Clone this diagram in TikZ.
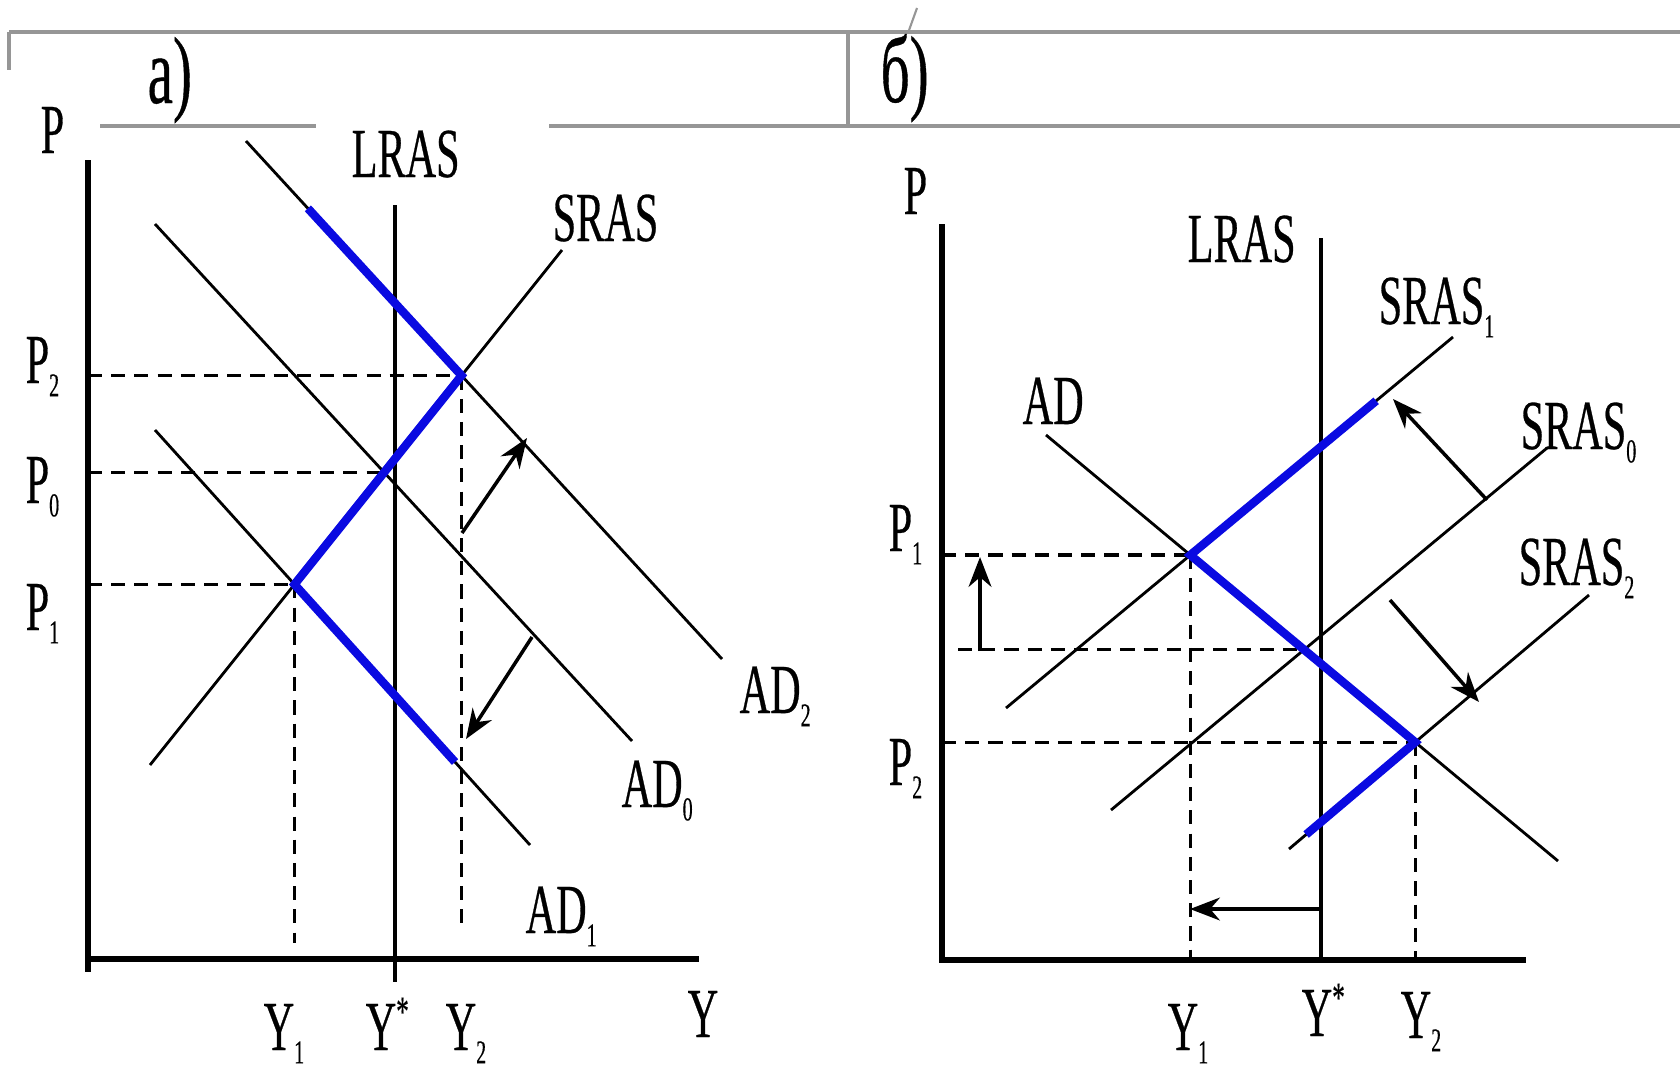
\documentclass[tikz,border=0pt]{standalone}
\usepackage{fontspec}
\usetikzlibrary{arrows.meta,calc}
\newfontfamily\chartfont{Liberation Serif}[FakeStretch=0.6,FakeBold=0.4]
\newcommand{\lo}[1]{\raisebox{-3.8pt}{\fontsize{9.5}{9.5}\selectfont #1}}
\newcommand{\hi}[1]{\raisebox{7pt}{\fontsize{12}{12}\selectfont #1}}
\definecolor{pathblue}{RGB}{10,10,225}
\definecolor{framegrey}{RGB}{150,150,150}
\tikzset{
  lbl/.style={anchor=base west, inner sep=0pt, font=\chartfont\fontsize{20}{20}\selectfont},
  panellbl/.style={anchor=base west, inner sep=0pt, font=\chartfont\fontsize{27}{27}\selectfont},
  curve/.style={line width=0.8pt},
  guide/.style={line width=0.9pt, dash pattern=on 4pt off 2.6pt},
  pathline/.style={draw=pathblue, line width=2.4pt},
  shiftarrow/.style={line width=1pt, -{Stealth[length=8.5pt,width=6.5pt]}},
  frameline/.style={draw=framegrey, line width=1.2pt},
}
\begin{document}
\begin{tikzpicture}
% AD-AS chart traced on a 1680 x 1072 pixel raster
\def\pxsz{0.01cm}
\providecommand{\econAxisWidth}{1.5pt}
\providecommand{\econLrasWidth}{1.1pt}
\begin{scope}[x=\pxsz, y=-\pxsz, line cap=butt]
  \useasboundingbox (0,0) rectangle (1680,1072);
  % Table frame
  \draw[frameline] (9,32) -- (1680,32);
  \draw[frameline] (9,32) -- (9,70);
  \draw[frameline] (848,32) -- (848,126);
  \draw[frameline] (100,126) -- (316,126);
  \draw[frameline] (549,126) -- (1680,126);
  \draw[draw=framegrey, line width=0.6pt] (908,33) -- (917,8);
  \node[panellbl] (capa) at (147,103) {a)};
  \node[panellbl] (capb) at (880,102) {б)};

  % ---------- panel a ----------
  \coordinate (aO) at (88,959);
  \coordinate (aTop) at (88,160);
  \coordinate (aEnd) at (699,959);
  \draw[line width=\econAxisWidth] (aTop) -- (88,972);
  \draw[line width=\econAxisWidth] (aO) -- (aEnd);
  % LRAS
  \coordinate (aL0) at (395,205);
  \coordinate (aL1) at (395,982);
  \draw[line width=\econLrasWidth] (aL0) -- (aL1);
  % AD and SRAS lines
  \coordinate (ad2a) at (246,141);
  \coordinate (ad2b) at (722,659);
  \coordinate (ad0a) at (155,224);
  \coordinate (ad0b) at (632,741);
  \coordinate (ad1a) at (155,430);
  \coordinate (ad1b) at (530,845);
  \coordinate (srasa) at (150,765);
  \coordinate (srasb) at (562,250);
  \draw[curve] (ad2a) -- (ad2b);
  \draw[curve] (ad0a) -- (ad0b);
  \draw[curve] (ad1a) -- (ad1b);
  \draw[curve] (srasa) -- (srasb);
  \coordinate (e2) at (intersection of ad2a--ad2b and srasa--srasb);
  \coordinate (e0) at (intersection of ad0a--ad0b and srasa--srasb);
  \coordinate (e1) at (intersection of ad1a--ad1b and srasa--srasb);
  % Guides
  \coordinate (aY1) at (0,943);
  \coordinate (aY2) at (0,925);
  \draw[guide] (e2 -| aO) -- (e2);
  \draw[guide] (e0 -| aO) -- (e0);
  \draw[guide] (e1 -| aO) -- (e1);
  \draw[guide] (e1) -- (e1 |- aY1);
  \draw[guide] (e2) -- (e2 |- aY2);
  % Adjustment path
  \draw[pathline] ($(ad2a)!0.13!(ad2b)$) -- (e2) -- (e1) -- ($(ad1a)!0.8!(ad1b)$);
  % Shifts of demand
  \coordinate (aup0) at (462,533);
  \coordinate (aup1) at (527,438);
  \coordinate (adn0) at (532,637);
  \coordinate (adn1) at (466,739);
  \draw[shiftarrow] (aup0) -- (aup1);
  \draw[shiftarrow] (adn0) -- (adn1);
  % Labels
  \node[lbl] (aP) at (40,153) {P};
  \node[lbl] (aLras) at (351,177) {LRAS};
  \node[lbl] (aSras) at (552,241) {SRAS};
  \node[lbl] (aP2) at (25,383) {P\lo{2}};
  \node[lbl] (aP0) at (25,503) {P\lo{0}};
  \node[lbl] (aP1) at (25,630) {P\lo{1}};
  \node[lbl] (aAD2) at (739,713) {AD\lo{2}};
  \node[lbl] (aAD0) at (621,807) {AD\lo{0}};
  \node[lbl] (aAD1) at (525,933) {AD\lo{1}};
  \node[lbl] (aY1l) at (263,1050) {Y\lo{1}};
  \node[lbl] (aYs) at (365,1050) {Y\hi{*}};
  \node[lbl] (aY2l) at (445,1050) {Y\lo{2}};
  \node[lbl] (aY) at (687,1037) {Y};

  % ---------- panel b ----------
  \coordinate (bO) at (942,960);
  \coordinate (bTop) at (942,224);
  \coordinate (bEnd) at (1526,960);
  \draw[line width=\econAxisWidth] (bTop) -- (bO) -- (bEnd);
  % LRAS
  \coordinate (bL0) at (1321,238);
  \coordinate (bL1) at (1321,960);
  \draw[line width=\econLrasWidth] (bL0) -- (bL1);
  % AD and SRAS lines
  \coordinate (bda) at (1046,435);
  \coordinate (bdb) at (1558,861);
  \coordinate (s1a) at (1006,708);
  \coordinate (s1b) at (1453,337);
  \coordinate (s0a) at (1111,810);
  \coordinate (s0b) at (1547,448);
  \coordinate (s2a) at (1289,849);
  \coordinate (s2b) at (1589,595);
  \draw[curve] (bda) -- (bdb);
  \draw[curve] (s1a) -- (s1b);
  \draw[curve] (s0a) -- (s0b);
  \draw[curve] (s2a) -- (s2b);
  \coordinate (f1) at (intersection of bda--bdb and s1a--s1b);
  \coordinate (f0) at (intersection of bda--bdb and s0a--s0b);
  \coordinate (f2) at (intersection of bda--bdb and s2a--s2b);
  % Guides
  \coordinate (bMid) at (958,0);
  \draw[guide] (f1 -| bO) -- (f1);
  \draw[guide] (f0 -| bMid) -- (f0);
  \draw[guide] (f2 -| bO) -- (f2);
  \draw[guide] (f1) -- (f1 |- bO);
  \draw[guide] (f2) -- (f2 |- bO);
  % Adjustment path
  \draw[pathline] ($(s1a)!0.828!(s1b)$) -- (f1) -- (f2) -- ($(s2a)!0.057!(s2b)$);
  % Shifts of supply, price and output
  \coordinate (bup0) at (980,651);
  \coordinate (bup1) at (980,557);
  \coordinate (bs10) at (1487,500);
  \coordinate (bs11) at (1393,399);
  \coordinate (bs20) at (1390,600);
  \coordinate (bs21) at (1479,702);
  \coordinate (byl0) at (1321,909);
  \coordinate (byl1) at (1190,909);
  \draw[shiftarrow] (bup0) -- (bup1);
  \draw[shiftarrow] (bs10) -- (bs11);
  \draw[shiftarrow] (bs20) -- (bs21);
  \draw[shiftarrow] (byl0) -- (byl1);
  % Labels
  \node[lbl] (bP) at (903,214) {P};
  \node[lbl] (bLras) at (1187,262) {LRAS};
  \node[lbl] (bSras1) at (1378,324) {SRAS\lo{1}};
  \node[lbl] (bAD) at (1022,424) {AD};
  \node[lbl] (bSras0) at (1520,449) {SRAS\lo{0}};
  \node[lbl] (bSras2) at (1518,585) {SRAS\lo{2}};
  \node[lbl] (bP1) at (888,551) {P\lo{1}};
  \node[lbl] (bP2) at (888,785) {P\lo{2}};
  \node[lbl] (bY1l) at (1167,1050) {Y\lo{1}};
  \node[lbl] (bYs) at (1301,1036) {Y\hi{*}};
  \node[lbl] (bY2l) at (1400,1038) {Y\lo{2}};
\end{scope}
\end{tikzpicture}
\end{document}
